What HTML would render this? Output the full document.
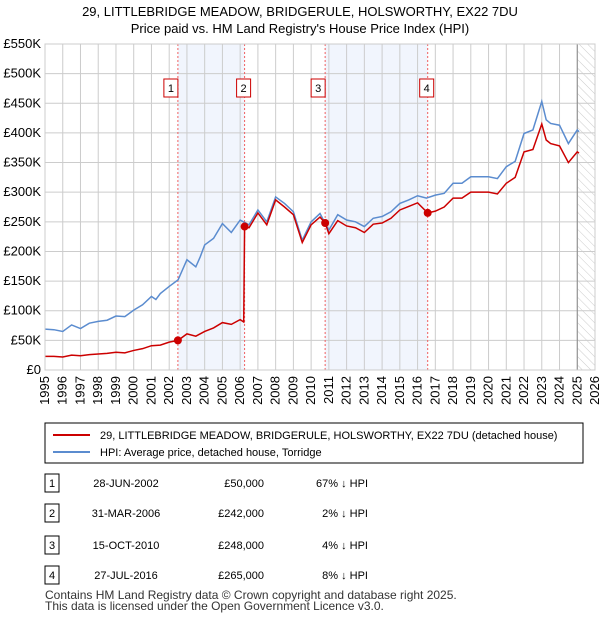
<!DOCTYPE html>
<html><head><meta charset="utf-8"><style>
body{margin:0;background:#fff;font-family:"Liberation Sans","DejaVu Sans",sans-serif;}
#wrap{position:relative;width:600px;height:620px;overflow:hidden;}
</style></head><body><div id="wrap">
<svg id="svg" width="600" height="620" style="position:absolute;left:0;top:0">
<defs><pattern id="hatch" width="6" height="6" patternUnits="userSpaceOnUse" patternTransform="rotate(-45)"><line x1="0" y1="0" x2="0" y2="6" stroke="#ccc" stroke-width="1"/></pattern></defs>
<text x="300" y="16" text-anchor="middle" font-size="13">29, LITTLEBRIDGE MEADOW, BRIDGERULE, HOLSWORTHY, EX22 7DU</text>
<text x="300" y="33" text-anchor="middle" font-size="13">Price paid vs. HM Land Registry's House Price Index (HPI)</text>
<g id="plot"></g>
<rect x="45" y="423" width="538" height="40" fill="#fff" stroke="#000" stroke-width="1"/>
<line x1="53" y1="435" x2="90" y2="435" stroke="#cc0000" stroke-width="2"/>
<text x="100" y="439" font-size="11">29, LITTLEBRIDGE MEADOW, BRIDGERULE, HOLSWORTHY, EX22 7DU (detached house)</text>
<line x1="53" y1="452" x2="90" y2="452" stroke="#5b8ccf" stroke-width="2"/>
<text x="100" y="456" font-size="11">HPI: Average price, detached house, Torridge</text>
<g font-size="11" id="tbl"></g>
<text x="45" y="599" font-size="12" fill="#333">Contains HM Land Registry data © Crown copyright and database right 2025.</text>
<text x="45" y="610" font-size="12" fill="#333">This data is licensed under the Open Government Licence v3.0.</text>
</svg></div>
<script>
const hpiYears=[1995,1995.5,1996,1996.5,1997,1997.5,1998,1998.5,1999,1999.5,2000,2000.5,2001,2001.25,2001.5,2002,2002.5,2003,2003.5,2003.75,2004,2004.5,2005,2005.5,2006,2006.5,2007,2007.5,2008,2008.5,2009,2009.5,2010,2010.5,2011,2011.5,2012,2012.5,2013,2013.5,2014,2014.5,2015,2015.5,2016,2016.5,2017,2017.5,2018,2018.5,2019,2019.5,2020,2020.5,2021,2021.5,2022,2022.5,2023,2023.25,2023.5,2024,2024.5,2025,2025.1];
const hpiValues=[69,68,65,76,70,79,82,84,91,90,101,110,124,119,129,141,152,186,174,191,211,222,247,232,253,245,270,250,292,281,267,219,250,264,236,262,253,250,242,256,259,267,281,287,294,290,295,298,315,315,326,326,326,323,343,352,399,405,453,422,416,413,382,405,402];
const priceYears=[1995,1995.5,1996,1996.5,1997,1997.5,1998,1998.5,1999,1999.5,2000,2000.5,2001,2001.5,2002,2002.5,2003,2003.5,2004,2004.5,2005,2005.5,2006,2006.2,2006.25,2006.5,2007,2007.5,2008,2008.5,2009,2009.5,2010,2010.5,2010.79,2011,2011.5,2012,2012.5,2013,2013.5,2014,2014.5,2015,2015.5,2016,2016.57,2017,2017.5,2018,2018.5,2019,2019.5,2020,2020.5,2021,2021.5,2022,2022.5,2023,2023.25,2023.5,2024,2024.5,2025,2025.1];
const priceValues=[23,23,22,25,24,26,27,28,30,29,33,36,41,42,47,50,61,57,65,71,80,77,85,81,242,240,265,245,287,275,262,215,245,258,248,230,252,243,240,232,246,248,256,270,276,282,265,268,275,290,290,300,300,300,297,315,325,368,372,415,388,382,378,350,368,366];
const saleLabels=["1","2","3","4"];
const saleYears=[2002.49,2006.25,2010.79,2016.57];
const salePrices=[50,242,248,265];
const saleDates=["28-JUN-2002","31-MAR-2006","15-OCT-2010","27-JUL-2016"];
const salePriceText=["£50,000","£242,000","£248,000","£265,000"];
const saleHpiText=["67% ↓ HPI","2% ↓ HPI","4% ↓ HPI","8% ↓ HPI"];
const yTicks=[0,50,100,150,200,250,300,350,400,450,500,550];
const xTicks=[1995,1996,1997,1998,1999,2000,2001,2002,2003,2004,2005,2006,2007,2008,2009,2010,2011,2012,2013,2014,2015,2016,2017,2018,2019,2020,2021,2022,2023,2024,2025,2026];

const NS="http://www.w3.org/2000/svg";
const X0=45,X1=595,Y0=370,Y1=44;
const xs=y=>X0+(y-1995)/(2026-1995)*(X1-X0);
const ys=v=>Y0-v/550*(Y0-Y1);
const plot=document.getElementById('plot');
function mk(tag,attrs,parent){const e=document.createElementNS(NS,tag);for(const k in attrs)e.setAttribute(k,attrs[k]);(parent||plot).appendChild(e);return e;}
for(let i=0;i<4;i+=2){
  const r=mk('rect',{x:xs(saleYears[i]),y:Y1,width:xs(saleYears[i+1])-xs(saleYears[i]),height:Y0-Y1,fill:'#eef3fc',opacity:0.8});
  
  
}
const hz=mk('rect',{x:xs(2025),y:Y1,width:X1-xs(2025),height:Y0-Y1,fill:'url(#hatch)'});


yTicks.forEach(v=>{
  const l=mk('line',{x1:X0,x2:X1,y1:ys(v),y2:ys(v),stroke:'#ccc','stroke-width':1});
  
  
  const t=mk('text',{x:X0-4,y:ys(v)+4,'text-anchor':'end','font-size':13});
  t.textContent=v===0?'£0':'£'+v+'K';
  
  
});
xTicks.forEach(y=>{
  const l=mk('line',{x1:xs(y),x2:xs(y),y1:Y1,y2:Y0,stroke:'#ccc','stroke-width':1});
  
  
  const t=mk('text',{x:0,y:0,'text-anchor':'end','font-size':13,transform:`translate(${xs(y)+4},${Y0+6}) rotate(-90)`});
  t.textContent=y;
  
  
});
const nl=mk('line',{x1:xs(2025),x2:xs(2025),y1:Y1,y2:Y0,stroke:'#888','stroke-width':1});


saleYears.forEach((y,i)=>{
  const l=mk('line',{x1:xs(y),x2:xs(y),y1:Y1,y2:Y0,stroke:'#f06060','stroke-width':1,'stroke-dasharray':'2,2'});
  
  
  const bx=xs(y)+(i%2===0?-8:-2)-6;
  const r=mk('rect',{x:bx,y:79,width:14,height:18,fill:'#fff',stroke:'#cc0000','stroke-width':1});
  
  
  const t=mk('text',{x:bx+7,y:92,'text-anchor':'middle','font-size':11});
  t.textContent=saleLabels[i];
  
  
});
const hp=mk('polyline',{points:hpiYears.map((y,i)=>xs(y)+','+ys(hpiValues[i])).join(' '),fill:'none',stroke:'#5b8ccf','stroke-width':1.5});


const pp=mk('polyline',{points:priceYears.map((y,i)=>xs(y)+','+ys(priceValues[i])).join(' '),fill:'none',stroke:'#cc0000','stroke-width':1.5});


saleYears.forEach((y,i)=>{
  const c=mk('circle',{cx:xs(y),cy:ys(salePrices[i]),r:4,fill:'#cc0000'});
  
  
});
const ax=mk('rect',{x:X0,y:Y1,width:X1-X0,height:Y0-Y1,fill:'none',stroke:'#ccc','stroke-width':1});


const tbl=document.getElementById('tbl');
const rowY=[483,513,545,575];
saleLabels.forEach((s,i)=>{
  const y=rowY[i];
  const r=mk('rect',{x:45,y:y-9,width:14,height:18,fill:'#fff',stroke:'#000','stroke-width':1},tbl);
  
  
  const cells=[[52,s,'middle'],[126,saleDates[i],'middle'],[264,salePriceText[i],'end'],[368,saleHpiText[i],'end']];
  cells.forEach(c=>{
    const t=mk('text',{x:c[0],y:y+4,'text-anchor':c[2],'font-size':11},tbl);
    t.textContent=c[1];
    
    
  });
});
</script></body></html>
